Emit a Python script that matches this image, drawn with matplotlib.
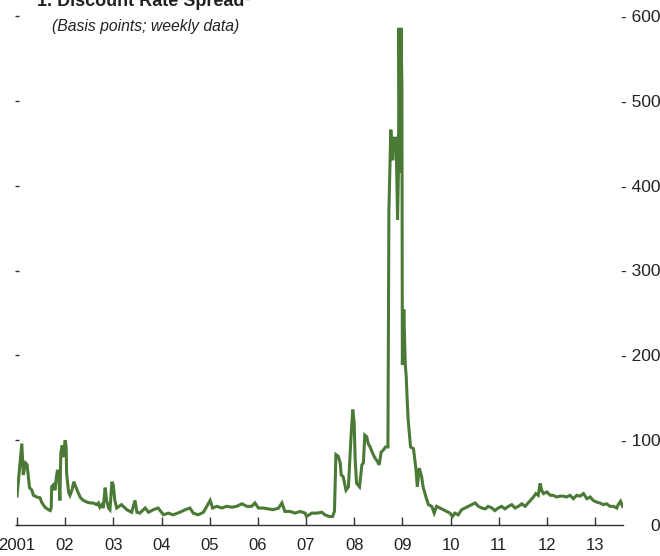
import matplotlib
matplotlib.use("Agg")
import matplotlib.pyplot as plt
from matplotlib import font_manager

# Discount rate spread, basis points
dates = [
    2001.00, 2001.10, 2001.13, 2001.18, 2001.21, 2001.26, 2001.31, 2001.34, 2001.41, 2001.48,
    2001.51, 2001.58, 2001.65, 2001.69, 2001.71, 2001.72, 2001.75, 2001.79, 2001.81, 2001.84,
    2001.87, 2001.89, 2001.91, 2001.94, 2001.96, 2002.00, 2002.02, 2002.03, 2002.07, 2002.10,
    2002.14, 2002.18, 2002.22, 2002.27, 2002.32, 2002.38, 2002.45, 2002.52, 2002.58, 2002.65,
    2002.69, 2002.72, 2002.76, 2002.79, 2002.83, 2002.86, 2002.90, 2002.93, 2002.97, 2003.00,
    2003.03, 2003.07, 2003.17, 2003.28, 2003.38, 2003.45, 2003.49, 2003.55, 2003.66, 2003.73,
    2003.83, 2003.93, 2004.04, 2004.14, 2004.24, 2004.38, 2004.49, 2004.59, 2004.66, 2004.76,
    2004.87, 2004.94, 2005.01, 2005.06, 2005.15, 2005.25, 2005.35, 2005.46, 2005.56, 2005.67,
    2005.77, 2005.87, 2005.94, 2006.01, 2006.11, 2006.22, 2006.32, 2006.43, 2006.50, 2006.56,
    2006.67, 2006.77, 2006.88, 2006.98, 2007.01, 2007.12, 2007.22, 2007.33, 2007.39, 2007.48,
    2007.55, 2007.59, 2007.62, 2007.67, 2007.71, 2007.73, 2007.77, 2007.83, 2007.88, 2007.93,
    2007.97, 2008.00, 2008.02, 2008.05, 2008.11, 2008.16, 2008.19, 2008.22, 2008.26, 2008.29,
    2008.33, 2008.38, 2008.43, 2008.48, 2008.52, 2008.56, 2008.60, 2008.65, 2008.70, 2008.72,
    2008.76, 2008.80, 2008.83, 2008.87, 2008.90, 2008.92, 2008.93, 2008.95, 2008.97, 2008.99,
    2009.00, 2009.03, 2009.06, 2009.08, 2009.10, 2009.12, 2009.17, 2009.23, 2009.28, 2009.31,
    2009.35, 2009.40, 2009.43, 2009.49, 2009.54, 2009.61, 2009.66, 2009.71, 2009.78, 2009.85,
    2009.92, 2009.99, 2010.04, 2010.09, 2010.16, 2010.23, 2010.30, 2010.37, 2010.44, 2010.51,
    2010.58, 2010.65, 2010.72, 2010.78, 2010.86, 2010.92, 2010.99, 2011.06, 2011.13, 2011.20,
    2011.27, 2011.34, 2011.41, 2011.48, 2011.55, 2011.61, 2011.66, 2011.72, 2011.77, 2011.82,
    2011.86, 2011.89, 2011.93, 2012.00, 2012.07, 2012.13, 2012.20, 2012.27, 2012.34, 2012.41,
    2012.48, 2012.55, 2012.62, 2012.69, 2012.76, 2012.83, 2012.90, 2012.96, 2013.03, 2013.10,
    2013.17, 2013.24, 2013.31, 2013.38, 2013.45, 2013.48, 2013.53, 2013.57,
]
spread = [
    34, 96, 59, 73, 71, 44, 41, 35, 33, 32,
    27, 21, 18, 17, 20, 45, 47, 41, 53, 65,
    57, 29, 85, 94, 80, 100, 92, 61, 39, 35,
    41, 51, 45, 38, 32, 29, 27, 26, 26, 24,
    26, 21, 24, 20, 44, 29, 20, 18, 51, 47,
    29, 20, 24, 18, 15, 29, 15, 14, 20, 15,
    18, 20, 12, 14, 12, 15, 18, 20, 14, 12,
    15, 22, 29, 20, 22, 20, 22, 21, 22, 25,
    22, 22, 26, 20, 20, 19, 18, 20, 26, 16,
    16, 14, 16, 14, 10, 14, 14, 15, 12, 10,
    10, 16, 83, 81, 73, 59, 57, 41, 45, 100,
    136, 120, 77, 49, 45, 71, 73, 106, 104, 96,
    92, 85, 79, 75, 71, 86, 88, 92, 92, 370,
    466, 430, 456, 456, 360, 423, 586, 415, 586, 521,
    189, 254, 189, 175, 147, 124, 92, 90, 67, 45,
    67, 57, 45, 33, 24, 22, 14, 22, 20, 18,
    16, 14, 10, 14, 12, 18, 20, 22, 24, 26,
    22, 20, 19, 22, 20, 17, 20, 22, 19, 22,
    24, 20, 22, 25, 22, 26, 29, 33, 37, 35,
    49, 41, 37, 39, 35, 35, 33, 34, 34, 33,
    35, 31, 35, 34, 37, 31, 33, 29, 27, 26,
    24, 25, 22, 22, 20, 24, 28, 22,
]

years = list(range(2001, 2014))
year_labels = ["2001"] + ["%02d" % (y % 100) for y in years[1:]]
y_ticks = [0, 100, 200, 300, 400, 500, 600]
y_labels = ["0"] + ["- %d" % v for v in y_ticks[1:]]

installed = {f.name for f in font_manager.fontManager.ttflist}
narrow = "Liberation Sans Narrow" if "Liberation Sans Narrow" in installed else "Liberation Sans"
plt.rcParams["font.family"] = [narrow, "DejaVu Sans"]

fig = plt.figure(figsize=(6.6, 5.56), dpi=100)
ax = fig.add_axes([17 / 660, 1 - 525 / 556, 606 / 660, (525 - 16) / 556])

ax.plot(dates, spread, color="#4a7a35", linewidth=2.2, solid_joinstyle="miter")

ax.set_xlim(2001.0, 2013.58)
ax.set_ylim(0, 600)

for side in ["top", "left", "right"]:
    ax.spines[side].set_visible(False)
ax.spines["bottom"].set_color("#333333")
ax.spines["bottom"].set_linewidth(1.0)

ax.set_xticks(years)
ax.set_xticklabels(year_labels)
ax.tick_params(axis="x", direction="in", length=6, width=1.0, color="#333333",
               pad=9, labelsize=12, labelcolor="#222222")

ax.set_yticks(y_ticks)
ax.set_yticklabels(y_labels)
ax.tick_params(axis="y", left=True, right=False, labelleft=False, labelright=True,
               direction="inout", length=3.5, width=1.0, color="#333333",
               pad=25, labelsize=12.5, labelcolor="#222222")
for lbl in ax.get_yticklabels():
    lbl.set_horizontalalignment("right")

fig.text(37 / 660, 1 - 2 / 556, "1. Discount Rate Spread\u00b9", fontsize=13,
         fontweight="bold", color="#222222", ha="left", va="center")
fig.text(52 / 660, 1 - 26 / 556, "(Basis points; weekly data)", fontsize=11.3,
         style="italic", color="#222222", ha="left", va="center")

fig.savefig("out.png", dpi=100)
